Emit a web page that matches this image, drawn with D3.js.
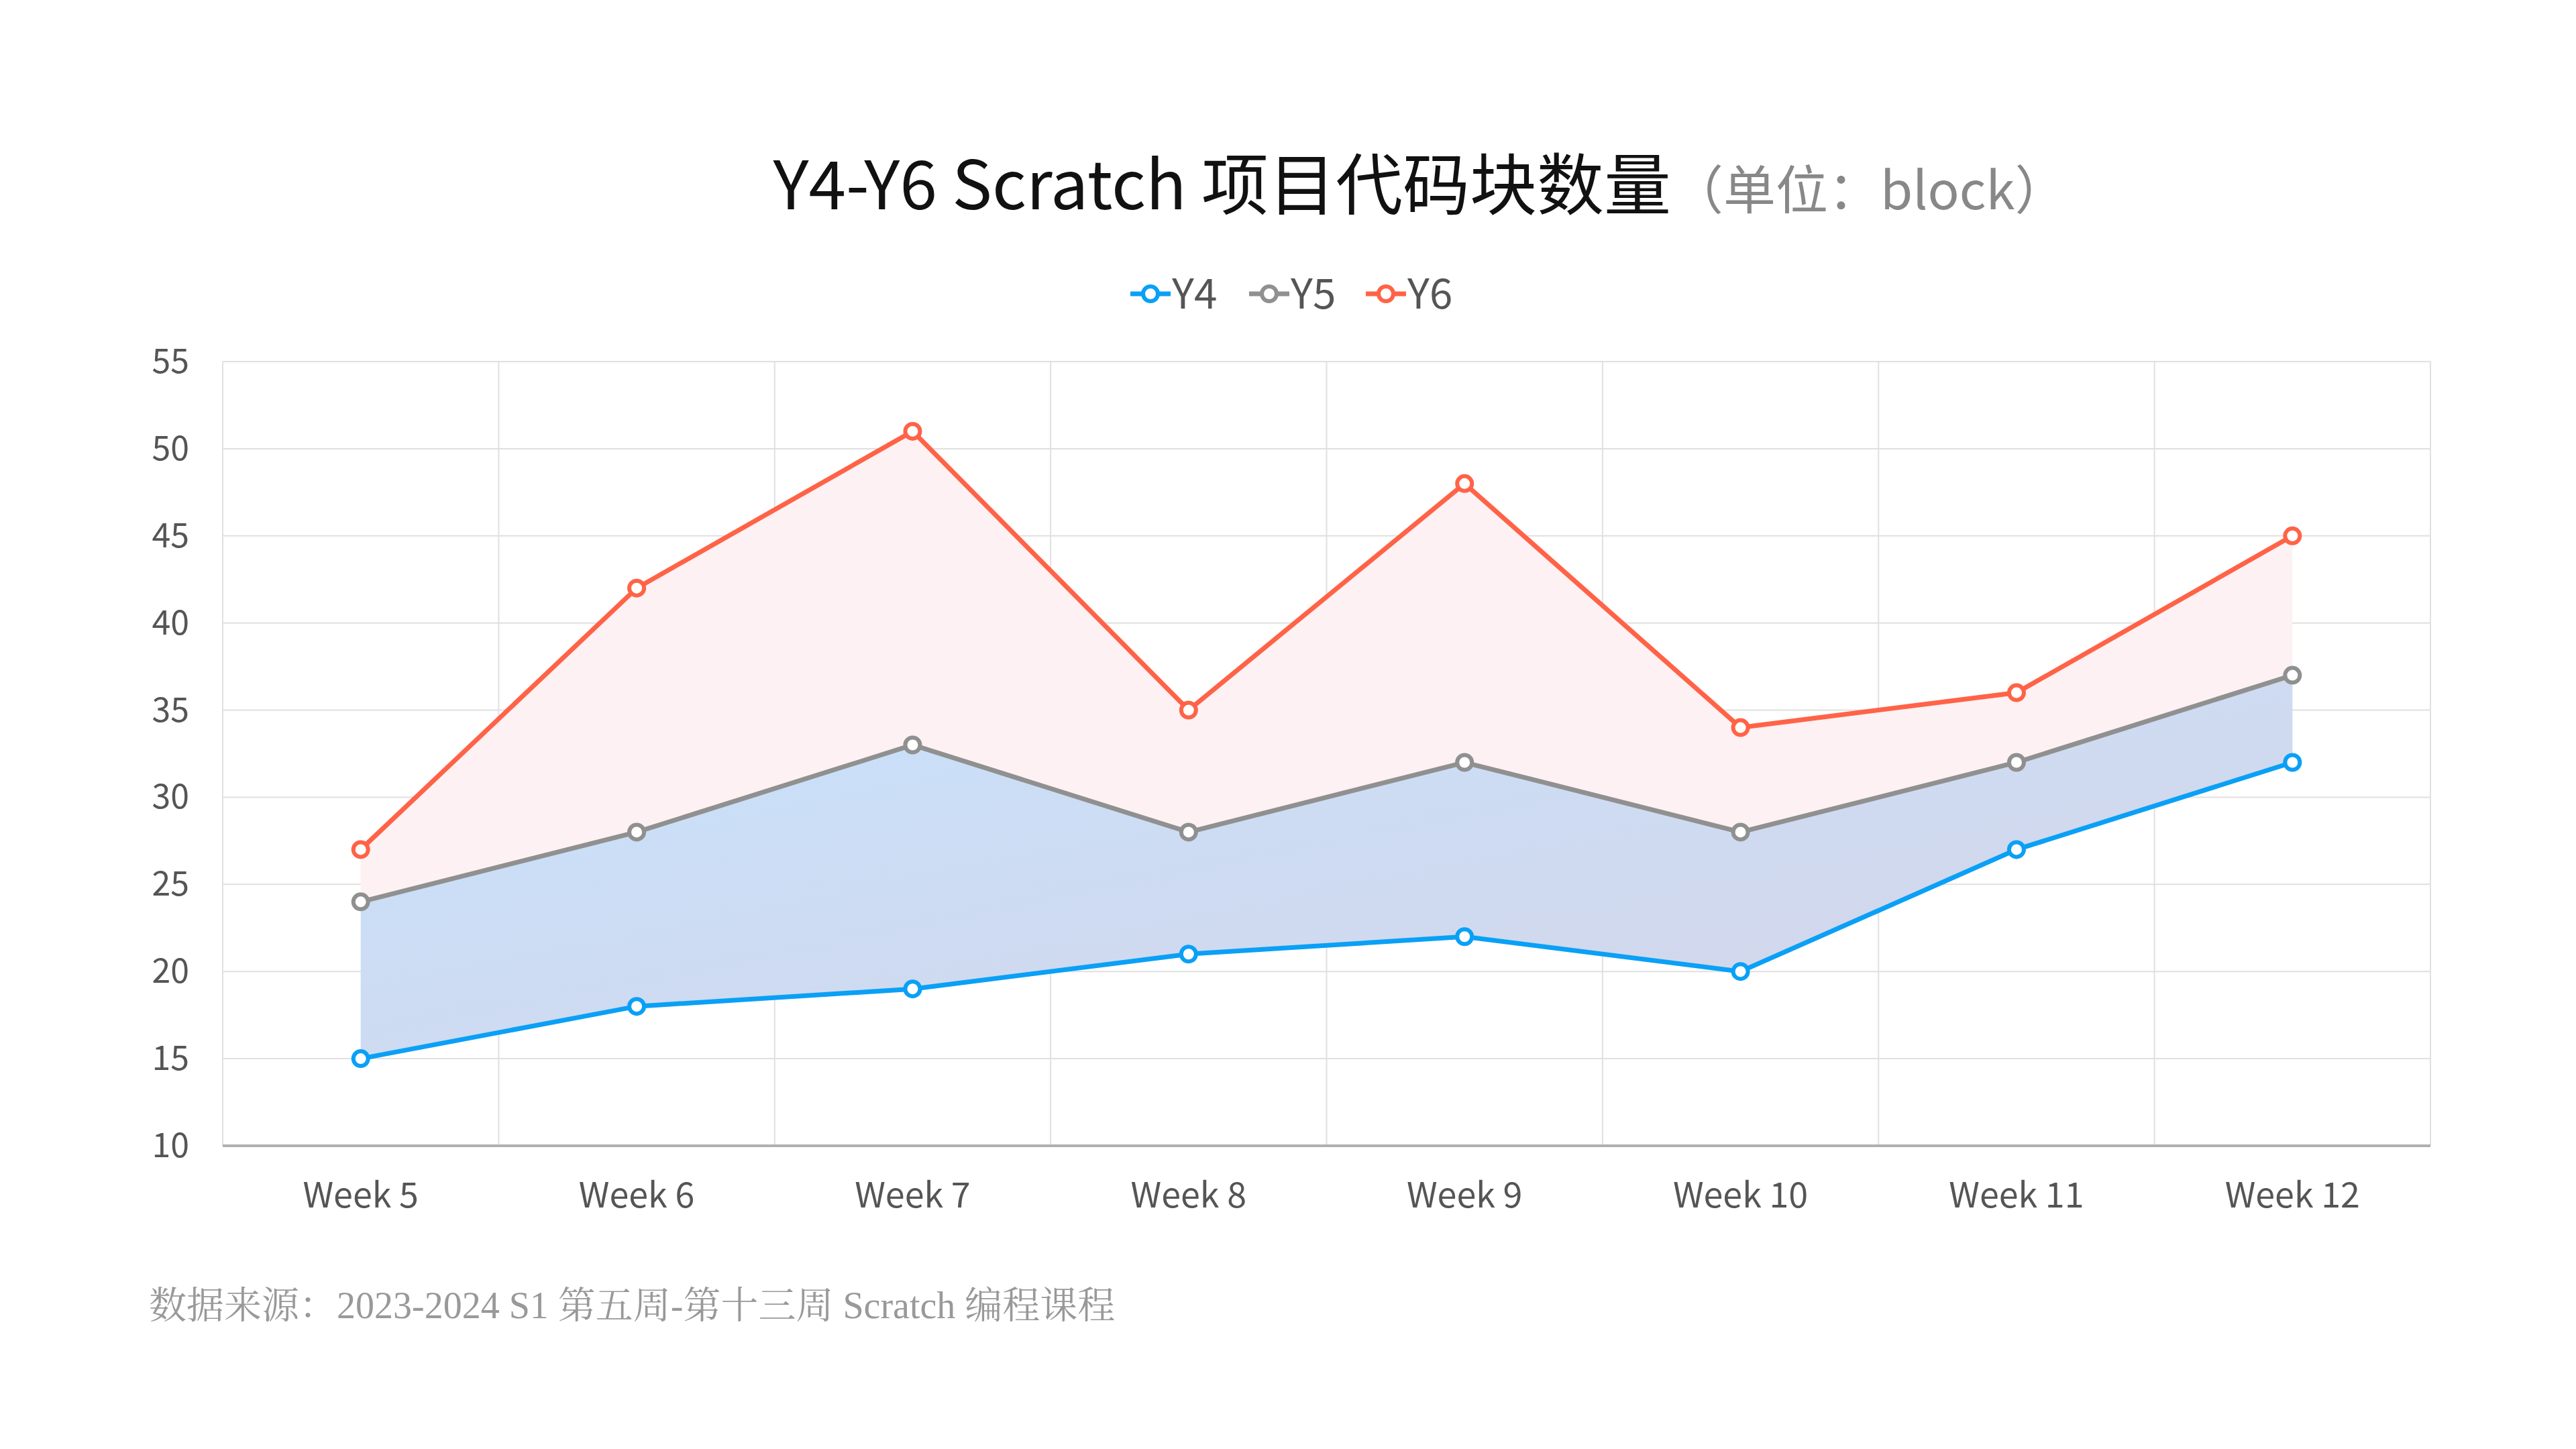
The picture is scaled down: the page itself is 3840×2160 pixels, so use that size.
<!DOCTYPE html>
<html><head><meta charset="utf-8">
<script src="https://cdn.jsdelivr.net/npm/d3@7"></script>
<style>body{margin:0;background:#fff}svg{display:block}</style>
</head><body>
<svg id="c" width="3840" height="2160"></svg>
<script>
const categories=["Week 5","Week 6","Week 7","Week 8","Week 9","Week 10","Week 11","Week 12"];
const y4=[15,18,19,21,22,20,27,32];
const y5=[24,28,33,28,32,28,32,37];
const y6=[27,42,51,35,48,34,36,45];
const seriesNames=["Y4","Y5","Y6"];
const colors=["#0aa0f6","#909090","#ff6347"];
const yTicks=[10,15,20,25,30,35,40,45,50,55];

const svg=d3.select("#c");
const L=332,R=3623,T=539,B=1708;
const x=d3.scaleBand().domain(categories).range([L,R]);
const y=d3.scaleLinear().domain([10,55]).range([B,T]);
const cx=d=>x(d)+x.bandwidth()/2;
const font="'Noto Sans CJK SC','Noto Sans',sans-serif";

const defs=svg.append("defs");
const g=defs.append("linearGradient").attr("id","bg").attr("x1","0").attr("y1","0").attr("x2","1").attr("y2","1");
g.append("stop").attr("offset","0").attr("stop-color","#c6e2fd");
g.append("stop").attr("offset","1").attr("stop-color","#d6d4e6");

// grid
svg.append("g").selectAll("line").data(yTicks).join("line")
 .attr("x1",L).attr("x2",R).attr("y1",d=>y(d)).attr("y2",d=>y(d)).attr("stroke","#e0e0e0").attr("stroke-width",2);
const bounds=categories.map(c=>x(c)).concat([R]);
svg.append("g").selectAll("line").data(bounds).join("line")
 .attr("x1",d=>d).attr("x2",d=>d).attr("y1",T).attr("y2",B).attr("stroke","#e0e0e0").attr("stroke-width",2);
svg.append("line").attr("x1",L).attr("x2",R).attr("y1",B).attr("y2",B).attr("stroke","#b0b0b0").attr("stroke-width",4);

// areas
const area=(top,bot)=>d3.area().x((d,i)=>cx(categories[i])).y0((d,i)=>y(bot[i])).y1(d=>y(d))(top);
svg.append("path").attr("d",area(y6,y5)).attr("fill","#fdf1f3");
svg.append("path").attr("d",area(y5,y4)).attr("fill","url(#bg)");

// lines & markers
const data=[y4,y5,y6];
data.forEach((s,k)=>{
 svg.append("path").attr("d",d3.line().x((d,i)=>cx(categories[i])).y(d=>y(d))(s))
  .attr("fill","none").attr("stroke",colors[k]).attr("stroke-width",7);
});
data.forEach((s,k)=>{
 svg.append("g").selectAll("circle").data(s).join("circle")
  .attr("cx",(d,i)=>cx(categories[i])).attr("cy",d=>y(d)).attr("r",11)
  .attr("fill","#fff").attr("stroke",colors[k]).attr("stroke-width",6);
});

// axes labels
svg.append("g").selectAll("text").data(yTicks).join("text")
 .attr("x",282).attr("y",d=>y(d)+17).attr("text-anchor","end").attr("font-family",font)
 .attr("font-size",50).attr("fill","#555").text(d=>d);
svg.append("g").selectAll("text").data(categories).join("text")
 .attr("x",d=>cx(d)).attr("y",1800).attr("text-anchor","middle").attr("font-family",font)
 .attr("font-size",52).attr("fill","#555").text(d=>d);

// title
const t=svg.append("text").attr("x",2117).attr("y",312).attr("text-anchor","middle").attr("font-family",font);
t.append("tspan").attr("font-size",100).attr("fill","#111").text("Y4-Y6 Scratch 项目代码块数量");
t.append("tspan").attr("font-size",78).attr("fill","#888").text("（单位：block）");

// legend
const lg=svg.append("g");
const lx=[1685,1862,2036];
seriesNames.forEach((n,k)=>{
 const gg=lg.append("g").attr("transform",`translate(${lx[k]},438)`);
 gg.append("line").attr("x1",0).attr("x2",60).attr("stroke",colors[k]).attr("stroke-width",7);
 gg.append("circle").attr("cx",30).attr("r",11).attr("fill","#fff").attr("stroke",colors[k]).attr("stroke-width",6);
 gg.append("text").attr("x",62).attr("y",22).attr("font-family",font).attr("font-size",62).attr("fill","#555").text(n);
});

// footnote
svg.append("text").attr("x",222).attr("y",1965).attr("font-family","'Liberation Serif','Noto Serif CJK SC','Noto Sans CJK SC',serif")
 .attr("font-size",56).attr("fill","#999").text("数据来源：2023-2024 S1 第五周-第十三周 Scratch 编程课程");
</script>
</body></html>
